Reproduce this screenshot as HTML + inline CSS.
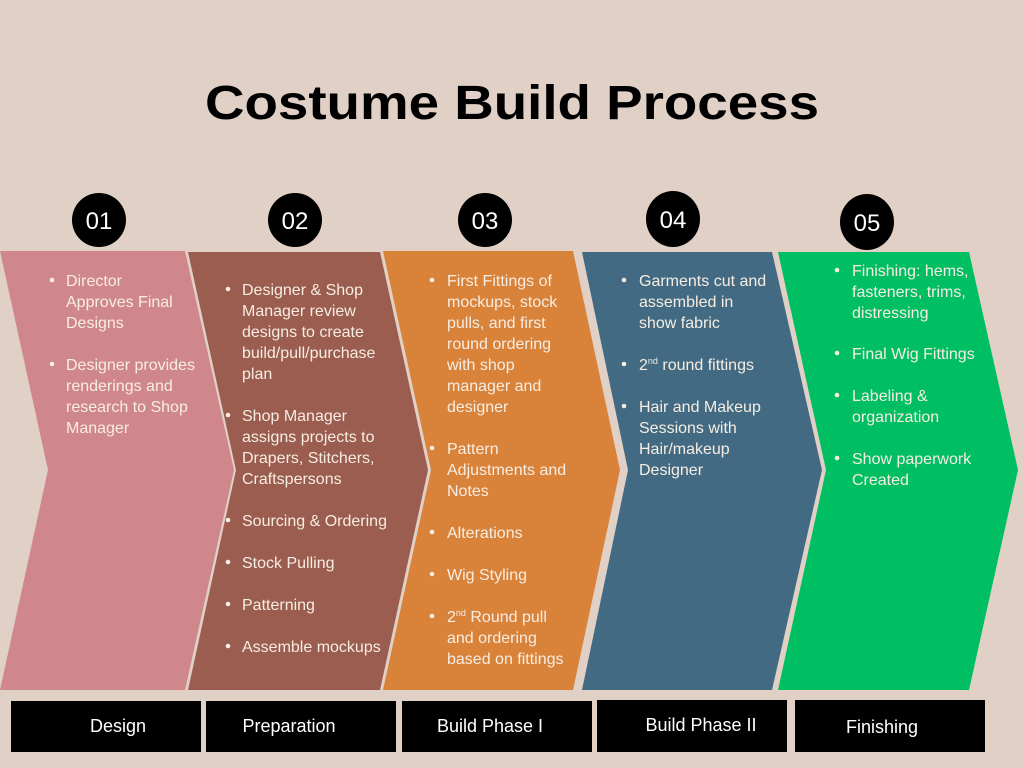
<!DOCTYPE html>
<html><head><meta charset="utf-8"><style>
html,body{margin:0;padding:0;background:#e0d0c5;}
svg{display:block;}
.t{font-family:"Liberation Sans",sans-serif;font-size:16px;fill:#f7ede2;}
.l{font-family:"Liberation Sans",sans-serif;font-size:18px;fill:#fff;}
.n{font-family:"Liberation Sans",sans-serif;font-size:24px;fill:#fff;}
</style></head><body>
<svg width="1024" height="768" viewBox="0 0 1024 768" xmlns="http://www.w3.org/2000/svg">
<rect width="1024" height="768" fill="#e0d0c5"/>
<text x="512" y="119" text-anchor="middle" textLength="614" lengthAdjust="spacingAndGlyphs" style="font-family:'Liberation Sans',sans-serif;font-weight:bold;font-size:48px;fill:#000">Costume Build Process</text>

<polygon points="0,251 185,251 234,470 185,690 0,690 48,470" fill="#cf878b"/>
<polygon points="188,252 380,252 428,470 380,690 188,690 236,470" fill="#9a5d4f"/>
<polygon points="383,251 573,251 620,470 573,690 383,690 431,470" fill="#d9823a"/>
<polygon points="582,252 772,252 822,470 772,690 582,690 628,470" fill="#426b83"/>
<polygon points="778,252 969,252 1018,470 969,690 778,690 826,470" fill="#00bf63"/>

<g fill="#000">
<ellipse cx="99" cy="220" rx="27" ry="27"/>
<ellipse cx="295" cy="220" rx="27" ry="27"/>
<ellipse cx="485" cy="220" rx="27" ry="27"/>
<ellipse cx="673" cy="219" rx="27" ry="28"/>
<ellipse cx="867" cy="222" rx="27" ry="28"/>
</g>
<text class="n" x="99" y="229" text-anchor="middle">01</text>
<text class="n" x="295" y="229" text-anchor="middle">02</text>
<text class="n" x="485" y="229" text-anchor="middle">03</text>
<text class="n" x="673" y="228" text-anchor="middle">04</text>
<text class="n" x="867" y="231" text-anchor="middle">05</text>

<g fill="#f7ede2">
<circle cx="52" cy="280" r="2.3"/><circle cx="52" cy="364" r="2.3"/>
<circle cx="228" cy="289" r="2.3"/><circle cx="228" cy="415" r="2.3"/><circle cx="228" cy="520" r="2.3"/><circle cx="228" cy="562" r="2.3"/><circle cx="228" cy="604" r="2.3"/><circle cx="228" cy="646" r="2.3"/>
<circle cx="432" cy="280" r="2.3"/><circle cx="432" cy="448" r="2.3"/><circle cx="432" cy="532" r="2.3"/><circle cx="432" cy="574" r="2.3"/><circle cx="432" cy="616" r="2.3"/>
<circle cx="624" cy="280" r="2.3"/><circle cx="624" cy="364" r="2.3"/><circle cx="624" cy="406" r="2.3"/>
<circle cx="837" cy="270" r="2.3"/><circle cx="837" cy="353" r="2.3"/><circle cx="837" cy="395" r="2.3"/><circle cx="837" cy="458" r="2.3"/>
</g>

<g class="t">
<text x="66" y="286">Director</text>
<text x="66" y="307">Approves Final</text>
<text x="66" y="328">Designs</text>
<text x="66" y="370">Designer provides</text>
<text x="66" y="391">renderings and</text>
<text x="66" y="412">research to Shop</text>
<text x="66" y="433">Manager</text>

<text x="242" y="295">Designer &amp; Shop</text>
<text x="242" y="316">Manager review</text>
<text x="242" y="337">designs to create</text>
<text x="242" y="358">build/pull/purchase</text>
<text x="242" y="379">plan</text>
<text x="242" y="421">Shop Manager</text>
<text x="242" y="442">assigns projects to</text>
<text x="242" y="463">Drapers,  Stitchers,</text>
<text x="242" y="484">Craftspersons</text>
<text x="242" y="526">Sourcing &amp; Ordering</text>
<text x="242" y="568">Stock Pulling</text>
<text x="242" y="610">Patterning</text>
<text x="242" y="652">Assemble mockups</text>

<text x="447" y="286">First Fittings of</text>
<text x="447" y="307">mockups, stock</text>
<text x="447" y="328">pulls, and first</text>
<text x="447" y="349">round ordering</text>
<text x="447" y="370">with shop</text>
<text x="447" y="391">manager and</text>
<text x="447" y="412">designer</text>
<text x="447" y="454">Pattern</text>
<text x="447" y="475">Adjustments and</text>
<text x="447" y="496">Notes</text>
<text x="447" y="538">Alterations</text>
<text x="447" y="580">Wig Styling</text>
<text x="447" y="622">2<tspan font-size="9" dy="-6">nd</tspan><tspan dy="6"> Round pull</tspan></text>
<text x="447" y="643">and ordering</text>
<text x="447" y="664">based on fittings</text>

<text x="639" y="286">Garments cut and</text>
<text x="639" y="307">assembled in</text>
<text x="639" y="328">show fabric</text>
<text x="639" y="370">2<tspan font-size="9" dy="-6">nd</tspan><tspan dy="6"> round fittings</tspan></text>
<text x="639" y="412">Hair and Makeup</text>
<text x="639" y="433">Sessions with</text>
<text x="639" y="454">Hair/makeup</text>
<text x="639" y="475">Designer</text>

<text x="852" y="276">Finishing: hems,</text>
<text x="852" y="297">fasteners, trims,</text>
<text x="852" y="318">distressing</text>
<text x="852" y="359">Final Wig Fittings</text>
<text x="852" y="401">Labeling &amp;</text>
<text x="852" y="422">organization</text>
<text x="852" y="464">Show paperwork</text>
<text x="852" y="485">Created</text>
</g>

<g fill="#000">
<rect x="11" y="701" width="190" height="51"/>
<rect x="206" y="701" width="190" height="51"/>
<rect x="402" y="701" width="190" height="51"/>
<rect x="597" y="700" width="190" height="52"/>
<rect x="795" y="700" width="190" height="52"/>
</g>
<text class="l" x="118" y="732" text-anchor="middle">Design</text>
<text class="l" x="289" y="732" text-anchor="middle">Preparation</text>
<text class="l" x="490" y="732" text-anchor="middle">Build Phase I</text>
<text class="l" x="701" y="731" text-anchor="middle">Build Phase II</text>
<text class="l" x="882" y="733" text-anchor="middle">Finishing</text>
</svg>
</body></html>
